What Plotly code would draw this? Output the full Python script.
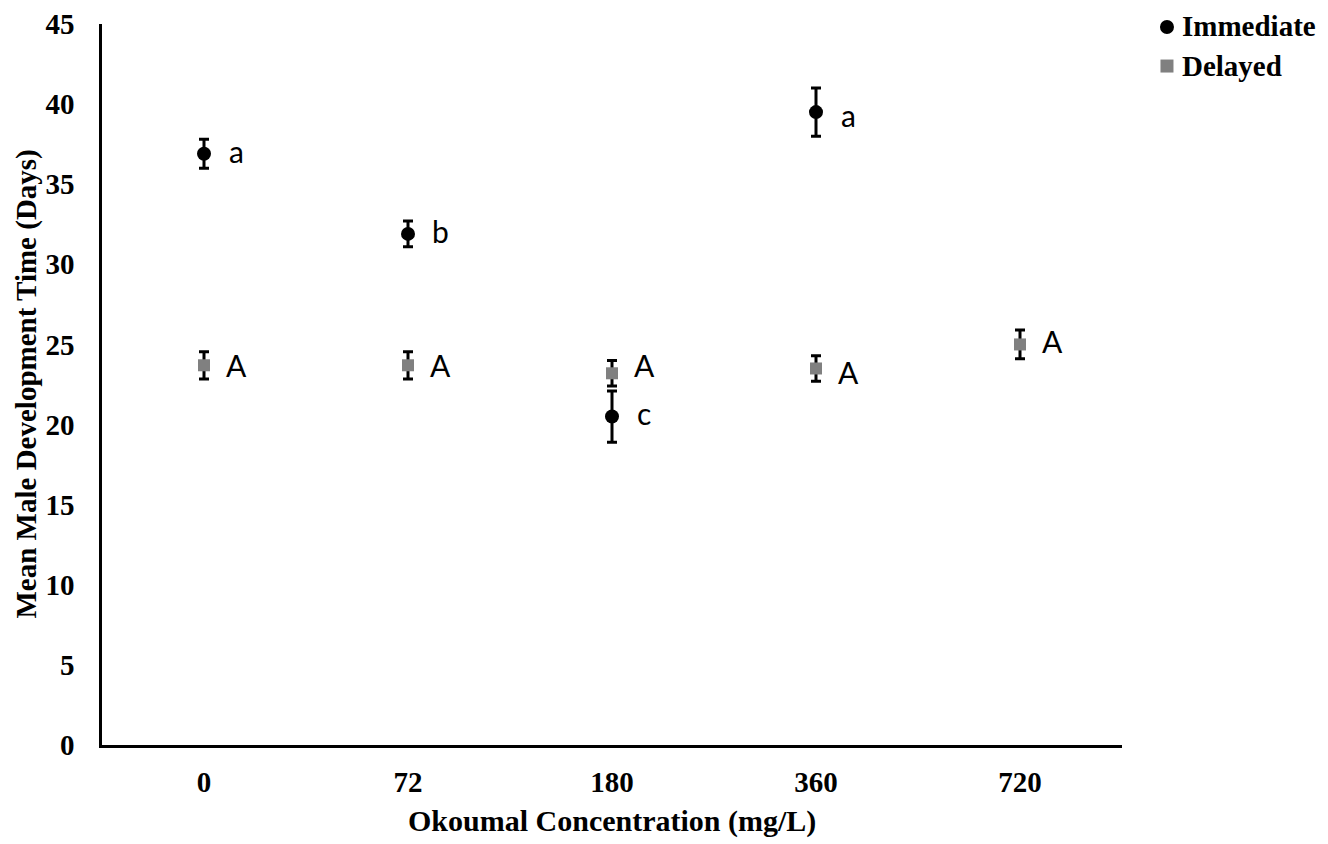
import plotly.graph_objects as go

categories = ["0", "72", "180", "360", "720"]
immediate = [36.9, 31.9, 20.5, 39.5, None]
immediate_err = [0.9, 0.8, 1.6, 1.5, None]
delayed = [23.7, 23.7, 23.2, 23.5, 25.0]
delayed_err = [0.85, 0.85, 0.8, 0.8, 0.9]
imm_letters = ["a", "b", "c", "a", ""]
imm_letter_y = [37.1, 32.1, 20.7, 39.3, None]
del_letters = ["A", "A", "A", "A", "A"]
del_letter_y = [23.7, 23.7, 23.7, 23.3, 25.2]
series_names = ["Immediate", "Delayed"]
series_colors = ["black", "#808080"]
x_title = "Okoumal Concentration (mg/L)"
y_title = "Mean Male Development Time (Days)"

serif = "Liberation Serif, Times New Roman, serif"
sans = "Lato, Open Sans, sans-serif"

fig = go.Figure()
fig.add_trace(go.Scatter(
    x=categories, y=immediate, mode="markers", name=series_names[0],
    showlegend=False,
    marker=dict(symbol="circle", size=14, color=series_colors[0]),
    error_y=dict(type="data", array=immediate_err, visible=True,
                 color="black", thickness=3, width=5),
))
fig.add_trace(go.Scatter(
    x=categories, y=delayed, mode="markers", name=series_names[1],
    showlegend=False,
    marker=dict(symbol="square", size=12, color=series_colors[1]),
    error_y=dict(type="data", array=delayed_err, visible=True,
                 color="black", thickness=3, width=5),
))

annotations = []
for i, (t, yv) in enumerate(zip(imm_letters, imm_letter_y)):
    if t and yv is not None:
        annotations.append(dict(x=i, y=yv, xref="x", yref="y", text=t,
                                showarrow=False, xshift=32,
                                font=dict(family=sans, size=30, color="black")))
for i, (t, yv) in enumerate(zip(del_letters, del_letter_y)):
    if t and yv is not None:
        annotations.append(dict(x=i, y=yv, xref="x", yref="y", text=t,
                                showarrow=False, xshift=32,
                                font=dict(family=sans, size=30, color="black")))

annotations.append(dict(x=0.5, y=0, xref="paper", yref="paper",
                        text="<b>" + x_title + "</b>", showarrow=False,
                        xanchor="center", yanchor="middle", yshift=-76,
                        font=dict(family=serif, size=30, color="black")))
annotations.append(dict(x=0, y=0.5, xref="paper", yref="paper",
                        text="<b>" + y_title + "</b>", showarrow=False,
                        textangle=-90, xanchor="center", yanchor="middle",
                        xshift=-76,
                        font=dict(family=serif, size=29, color="black")))

# legend drawn as key shapes + labels in paper space
legend_x = 1.0441
legend_y = [0.9958, 0.9417]
label_y = [1.0222, 0.9417]
label_anchor = ["top", "middle"]
shapes = []
for k, (nm, col) in enumerate(zip(series_names, series_colors)):
    half = 7 if k == 0 else 6.5
    shapes.append(dict(type="circle" if k == 0 else "rect",
                       xref="paper", yref="paper",
                       xsizemode="pixel", ysizemode="pixel",
                       xanchor=legend_x, yanchor=legend_y[k],
                       x0=-half, x1=half, y0=-half, y1=half,
                       fillcolor=col, line=dict(width=0)))
    annotations.append(dict(x=legend_x, y=label_y[k], xref="paper", yref="paper",
                            text="<b>" + nm + "</b>", showarrow=False,
                            xanchor="left", yanchor=label_anchor[k], xshift=13,
                            font=dict(family=serif, size=29, color="black")))

fig.update_layout(
    width=1320, height=836,
    margin=dict(l=94, r=206, t=16, b=99),
    plot_bgcolor="white", paper_bgcolor="white",
    annotations=annotations,
    shapes=shapes,
    showlegend=False,
    xaxis=dict(
        type="category", categoryorder="array", categoryarray=categories,
        range=[-0.5, 4.5], showline=True, linecolor="black", linewidth=2.5,
        showgrid=False, zeroline=False, ticks="", automargin=False,
        tickfont=dict(family=serif, size=29, color="black", weight="bold"),
        ticklabelstandoff=9,
    ),
    yaxis=dict(
        range=[0, 45], dtick=5, showline=True, linecolor="black", linewidth=2.5,
        showgrid=False, zeroline=False, ticks="", automargin=False,
        tickfont=dict(family=serif, size=29, color="black", weight="bold"),
        ticklabelstandoff=19,
    ),
)

fig.write_html("out.html")
